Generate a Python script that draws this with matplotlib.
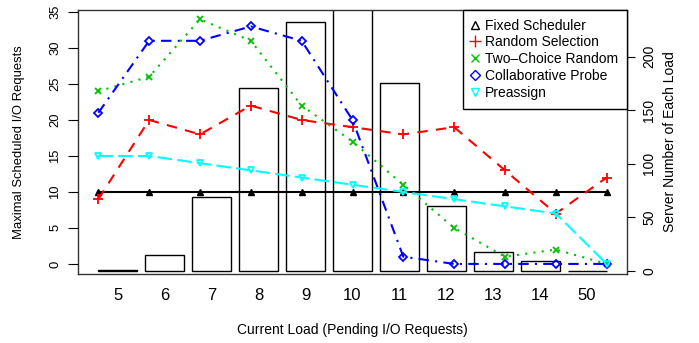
import matplotlib
matplotlib.use("Agg")
import matplotlib.pyplot as plt
from matplotlib.lines import Line2D
import numpy as np

plt.rcParams['font.family'] = ['Liberation Sans', 'DejaVu Sans']

# data
loads = ['5', '6', '7', '8', '9', '10', '11', '12', '13', '14', '50']
servers = [1, 15, 69, 171, 232, 260, 175, 61, 18, 9, 0]

fixed = [10, 10, 10, 10, 10, 10, 10, 10, 10, 10, 10]
random_sel = [9, 20, 18, 22, 20, 19, 18, 19, 13, 7, 12]
two_choice = [24, 26, 34, 31, 22, 17, 11, 5, 1, 2, 0]
collab = [21, 31, 31, 33, 31, 20, 1, 0, 0, 0, 0]
preassign = [15, 15, 14, 13, 12, 11, 10, 9, 8, 7, 0]

W, H = 699, 343
fig = plt.figure(figsize=(W / 100, H / 100), dpi=100)
pos = [78 / W, 1 - 274 / H, (627 - 78) / W, (274 - 9.5) / H]

# bars (R barplot style, width 1, space 0.2) on the right axis
ax_bar = fig.add_axes(pos)
centers = 0.7 + 1.2 * np.arange(len(loads))
ax_bar.bar(centers, servers, width=1.0, facecolor='white', edgecolor='black', linewidth=1.0)
ax_bar.set_xlim(-0.32, 13.72)
ax_bar.set_ylim(-2.8, 244)
ax_bar.yaxis.tick_right()
ax_bar.set_yticks([0, 50, 100, 150, 200])
ax_bar.tick_params(axis='y', direction='out', length=6, width=0.8, labelsize=10,
                   labelrotation=90, pad=5)
for t in ax_bar.get_yticklabels():
    t.set_va('center')
ax_bar.set_xticks(centers)
ax_bar.set_xticklabels(loads)
ax_bar.tick_params(axis='x', length=0, labelsize=12, pad=10)
for s in ax_bar.spines.values():
    s.set_color('#333333')
    s.set_linewidth(1.0)

# lines on the left axis
ax = fig.add_axes(pos)
ax.patch.set_visible(False)
x = np.arange(1, len(loads) + 1)
lw = 1.5
ax.plot(x, fixed, color='black', lw=lw, marker='^', ms=4.5, mfc='black')
ax.plot(x, random_sel, color='red', lw=lw, dashes=(5, 4), marker='+', ms=6.5, mew=1.3)
ax.plot(x, two_choice, color='#00c000', lw=lw, dashes=(1, 3), marker='x', ms=4.5, mew=1.3)
ax.plot(x, collab, color='blue', lw=lw, dashes=(5, 3, 1, 3), marker='D', ms=3.8,
        mfc='none', mew=1.3)
ax.plot(x, preassign, color='cyan', lw=lw, dashes=(7, 2.5), marker='v', ms=5,
        mfc='none', mew=1.3)
ax.set_xlim(0.6, 11.4)
ax.set_ylim(-1.4, 35.35)
ax.set_xticks([])
ax.set_yticks(range(0, 36, 5))
ax.tick_params(axis='y', direction='out', length=7, width=0.8, labelsize=9.4,
               labelrotation=90, pad=5)
for t in ax.get_yticklabels():
    t.set_va('center')
for s in ax.spines.values():
    s.set_visible(False)

fig.text(19.5 / W, 1 - 142 / H, 'Maximal Scheduled I/O Requests', rotation=90,
         ha='center', va='center', fontsize=9.4)
fig.text(670 / W, 1 - 142 / H, 'Server Number of Each Load', rotation=90,
         ha='center', va='center', fontsize=10)
fig.text(352 / W, 1 - 330 / H, 'Current Load (Pending I/O Requests)',
         ha='center', va='center', fontsize=10)

handles = [
    Line2D([], [], ls='none', marker='^', color='black', mfc='none', ms=5.5),
    Line2D([], [], ls='none', marker='+', color='red', ms=8),
    Line2D([], [], ls='none', marker='x', color='#00c000', ms=5.5),
    Line2D([], [], ls='none', marker='D', color='blue', mfc='none', ms=5),
    Line2D([], [], ls='none', marker='v', color='cyan', mfc='none', ms=6),
]
names = ['Fixed Scheduler', 'Random Selection', 'Two\u2013Choice Random',
         'Collaborative Probe', 'Preassign']
leg = ax.legend(handles, names, loc='upper right', bbox_to_anchor=(1, 1),
                borderaxespad=0, fontsize=10, fancybox=False, framealpha=1,
                edgecolor='black', labelspacing=0.2, handlelength=0.5,
                handletextpad=0.45, borderpad=0.65)
leg.get_frame().set_linewidth(1.0)

fig.savefig('out.png', dpi=100)
